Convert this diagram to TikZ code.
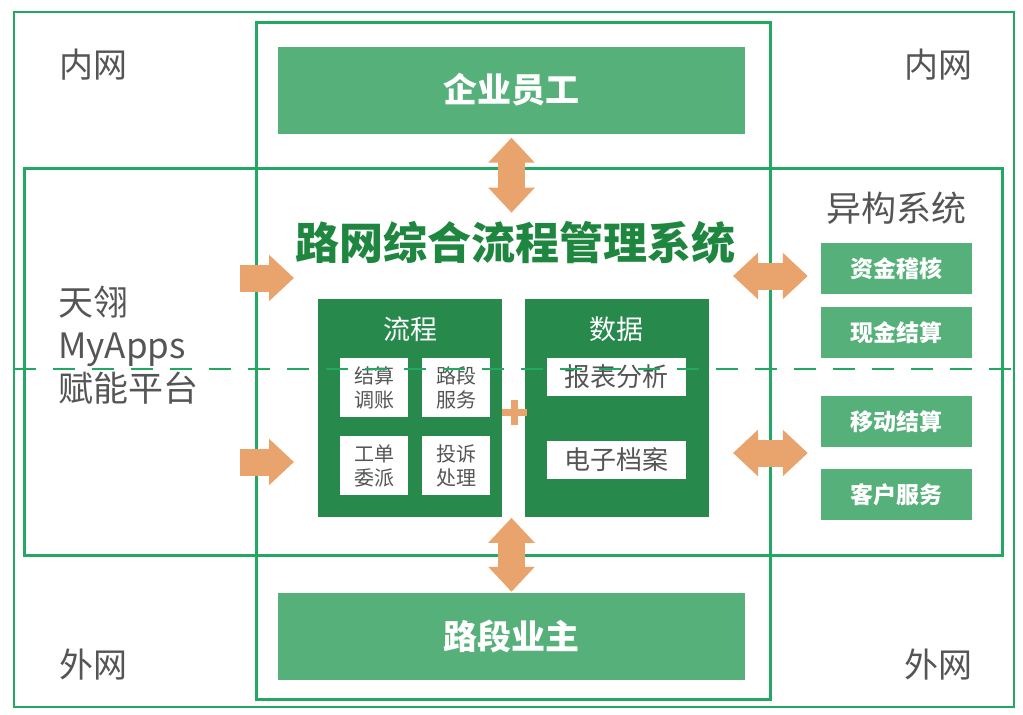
\documentclass[tikz,border=0pt]{standalone}
\usepackage{fontspec}
\newfontfamily\cjk{Noto Sans CJK SC}
\usetikzlibrary{arrows.meta}
\definecolor{framegreen}{HTML}{22A862}
\definecolor{boxgreen}{HTML}{55B07A}
\definecolor{darkgreen}{HTML}{278A4C}
\definecolor{titlegreen}{HTML}{1F8640}
\definecolor{arroworange}{HTML}{E9A46E}
\definecolor{txtgray}{HTML}{555555}
\newcommand{\fs}[1]{\fontsize{#1}{#1}\selectfont}

\begin{document}
\begin{tikzpicture}[x=1pt,y=-1pt,font=\cjk,
  bigbox/.style={fill=boxgreen,text=white,font=\cjk\bfseries\fs{34},minimum width=467pt,minimum height=87pt},
  sidebox/.style={fill=boxgreen,text=white,font=\cjk\bfseries\fs{23},minimum width=151pt,minimum height=51pt},
  panel/.style={fill=darkgreen,minimum width=184pt,minimum height=218pt},
  cell/.style={fill=white,text=txtgray,font=\cjk\fontsize{20}{24}\selectfont,align=center,minimum width=68pt,minimum height=59pt,inner sep=0pt},
  wcell/.style={fill=white,text=txtgray,font=\cjk\fs{26},minimum width=139pt,minimum height=38pt,inner sep=0pt},
  zone/.style={text=txtgray,font=\cjk\fs{34}},
  fat/.style={arroworange,line width=27pt,-{Triangle[length=25pt,width=45pt]}},
  dfat/.style={arroworange,line width=27pt,{Triangle[length=25pt,width=45pt]}-{Triangle[length=25pt,width=45pt]}}]
\useasboundingbox (0,0) rectangle (1023,715);
% frames
\draw[framegreen,line width=2pt] (14,12) rectangle (1014,707);
\draw[framegreen,line width=3pt] (256,22) rectangle (770,699);
\draw[framegreen,line width=3pt] (24,168) rectangle (1002,555);
% zones
\node[zone] (in1) at (93,65) {内网};
\node[zone] (in2) at (938,65) {内网};
\node[zone] (out1) at (93,665) {外网};
\node[zone] (out2) at (938,665) {外网};
\node[zone,font=\cjk\fontsize{35}{43}\selectfont,align=left,anchor=west,inner sep=0pt] (myapps) at (58,345) {天翎\\MyApps\\赋能平台};
% top and bottom
\node[bigbox] (staff) at (511.5,90) {企业员工};
\node[bigbox] (owner) at (511.5,636.5) {路段业主};
\node[text=titlegreen,font=\cjk\bfseries\fs{44}] (title) at (515,243) {路网综合流程管理系统};
% panels
\node[panel] (flow) at (410,408) {};
\node[panel] (data) at (616.5,408) {};
\node[text=white,font=\cjk\fs{27}] (flowlbl) at (410,329) {流程};
\node[text=white,font=\cjk\fs{27}] (datalbl) at (616.5,329) {数据};
\node[cell] (c1) at (374,387.5) {结算\\调账};
\node[cell] (c2) at (456,387.5) {路段\\服务};
\node[cell] (c3) at (374,465.5) {工单\\委派};
\node[cell] (c4) at (456,465.5) {投诉\\处理};
\node[wcell] (report) at (616.5,377) {报表分析};
\node[wcell] (archive) at (616.5,459.5) {电子档案};
\draw[arroworange,line width=7pt] (502,412) -- (527,412) (514,400) -- (514,425);
% other systems
\node[zone,font=\cjk\fs{35}] (hetero) at (896,208) {异构系统};
\node[sidebox] (fund) at (896.5,268.5) {资金稽核};
\node[sidebox] (cash) at (896.5,332.5) {现金结算};
\node[sidebox] (mobile) at (896.5,421.5) {移动结算};
\node[sidebox] (client) at (896.5,494.5) {客户服务};
% arrows
\coordinate (l1) at (240,278);
\coordinate (l2) at (240,462);
\coordinate (r1) at (733,276);
\coordinate (r2) at (733,453);
\draw[fat] (l1) -- ++(54,0);
\draw[fat] (l2) -- ++(54,0);
\draw[dfat] (r1) -- ([xshift=-13pt]fund.west |- r1);
\draw[dfat] (r2) -- ([xshift=-13pt]mobile.west |- r2);
\draw[dfat] ([yshift=-4pt]staff.south) -- ++(0,75);
\draw[dfat] ([yshift=1pt]owner.north) -- ++(0,-74);
% in / out border
\draw[framegreen,line width=2pt,dash pattern=on 22pt off 17pt] (14,369) -- (1014,369);
\end{tikzpicture}
\end{document}
